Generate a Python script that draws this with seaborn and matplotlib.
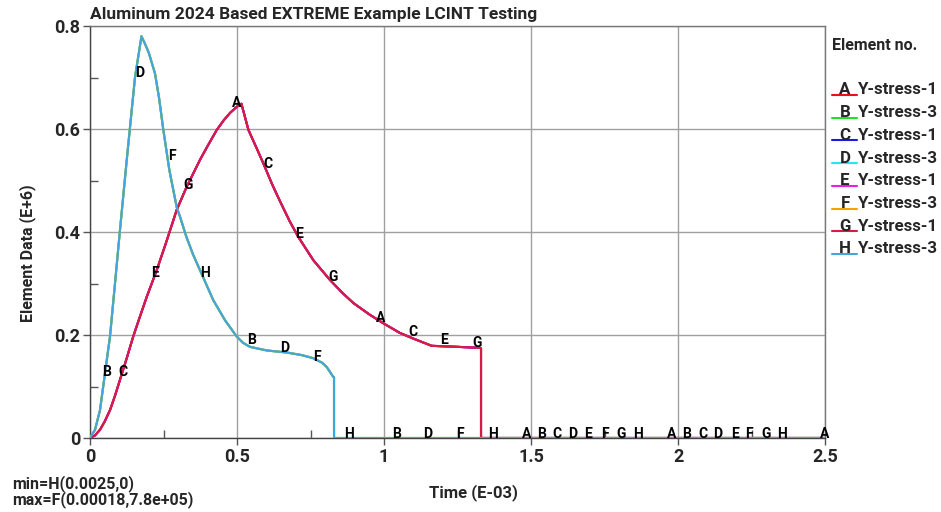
import numpy as np
import pandas as pd
import matplotlib
matplotlib.use("Agg")
import matplotlib.pyplot as plt
from matplotlib.lines import Line2D
import seaborn as sns

# ---- data (time in E-03, stress in E+6) ----
t1 = [0, 0.017, 0.034, 0.05, 0.068, 0.085, 0.102, 0.125, 0.147, 0.17, 0.193,
      0.227, 0.258, 0.295, 0.329, 0.374, 0.40, 0.431, 0.455, 0.476, 0.499,
      0.515, 0.539, 0.565, 0.589, 0.62, 0.646, 0.68, 0.709, 0.76, 0.816,
      0.86, 0.896, 0.95, 0.997, 1.054, 1.10, 1.162, 1.25, 1.327, 1.33, 1.33,
      2.5]
s1 = [0, 0.005, 0.016, 0.032, 0.054, 0.082, 0.113, 0.155, 0.197, 0.236,
      0.274, 0.326, 0.378, 0.443, 0.488, 0.540, 0.567, 0.598, 0.617, 0.631,
      0.643, 0.649, 0.598, 0.565, 0.534, 0.492, 0.460, 0.420, 0.390, 0.345,
      0.307, 0.281, 0.262, 0.240, 0.223, 0.204, 0.193, 0.179, 0.177, 0.175,
      0.174, 0, 0]

t3 = [0, 0.017, 0.034, 0.051, 0.068, 0.085, 0.102, 0.125, 0.153, 0.175,
      0.185, 0.20, 0.221, 0.235, 0.249, 0.27, 0.295, 0.306, 0.327, 0.35,
      0.374, 0.419, 0.46, 0.499, 0.52, 0.544, 0.601, 0.669, 0.72, 0.759,
      0.79, 0.805, 0.827, 0.83, 0.83, 2.5]
s3 = [0, 0.016, 0.054, 0.126, 0.197, 0.30, 0.404, 0.54, 0.70, 0.780, 0.768,
      0.748, 0.708, 0.66, 0.60, 0.52, 0.448, 0.430, 0.392, 0.357, 0.326,
      0.268, 0.228, 0.197, 0.185, 0.177, 0.170, 0.166, 0.161, 0.155, 0.146,
      0.138, 0.119, 0.118, 0, 0]

letters = ["A", "B", "C", "D", "E", "F", "G", "H"]
names = ["Y-stress-1", "Y-stress-3"] * 4
colors = ["#e8101c", "#22e022", "#1a1ad8", "#22e8f0",
          "#e81ee0", "#f5a300", "#d81c40", "#42a6de"]

# label anchor positions along the curves (x, y)
lab_x = {
    "A": [0.50, 0.99, 1.485, 1.979, 2.50],
    "B": [0.058, 0.551, 1.043, 1.536, 2.03],
    "C": [0.112, 0.605, 1.099, 1.587, 2.084],
    "D": [0.17, 0.663, 1.15, 1.643, 2.136],
    "E": [0.221, 0.711, 1.204, 1.694, 2.194],
    "F": [0.279, 0.772, 1.259, 1.752, 2.241],
    "G": [0.333, 0.827, 1.316, 1.808, 2.299],
    "H": [0.391, 0.882, 1.371, 1.864, 2.353],
}
lab_y = {
    "A": [0.650, 0.233, 0.008, 0.008, 0.008],
    "B": [0.128, 0.190, 0.008, 0.008, 0.008],
    "C": [0.128, 0.532, 0.206, 0.008, 0.008],
    "D": [0.709, 0.175, 0.008, 0.008, 0.008],
    "E": [0.320, 0.396, 0.190, 0.008, 0.008],
    "F": [0.548, 0.157, 0.008, 0.008, 0.008],
    "G": [0.491, 0.313, 0.184, 0.008, 0.008],
    "H": [0.320, 0.008, 0.008, 0.008, 0.008],
}

x_ticks = [0, 0.5, 1, 1.5, 2, 2.5]
x_ticklabels = ["0", "0.5", "1", "1.5", "2", "2.5"]
y_ticks = [0, 0.2, 0.4, 0.6, 0.8]
y_ticklabels = ["0", "0.2", "0.4", "0.6", "0.8"]

title = "Aluminum 2024 Based EXTREME Example LCINT Testing"
xlabel = "Time (E-03)"
ylabel = "Element Data (E+6)"
legend_title = "Element no."
min_text = "min=H(0.0025,0)"
max_text = "max=F(0.00018,7.8e+05)"

# ---- plotting ----
sns.set_theme(style="white")
plt.rcParams["font.family"] = ["Roboto", "DejaVu Sans"]

fig = plt.figure(figsize=(9.41, 5.12), dpi=100)
ax = fig.add_axes([90 / 941, 1 - 438 / 512, 735 / 941, 412 / 512])

for i, (L, c) in enumerate(zip(letters, colors)):
    if i % 2 == 0:
        df = pd.DataFrame({"t": t1, "v": s1})
    else:
        df = pd.DataFrame({"t": t3, "v": s3})
    sns.lineplot(data=df, x="t", y="v", color=c, lw=1.5, ax=ax,
                 estimator=None, sort=False, zorder=3 + i * 0.1)

for L in letters:
    for xx, yy in zip(lab_x[L], lab_y[L]):
        ax.text(xx, yy, L, ha="center", va="center", fontsize=10,
                fontweight="bold", color="black", zorder=10)

ax.set_xlim(0, 2.5)
ax.set_ylim(0, 0.8)
ax.set_xticks(x_ticks)
ax.set_xticklabels(x_ticklabels)
ax.set_yticks(y_ticks)
ax.set_yticklabels(y_ticklabels)
ax.set_xticks([0.25, 0.75, 1.25, 1.75, 2.25], minor=True)
ax.set_yticks([0.1, 0.3, 0.5, 0.7], minor=True)
ax.tick_params(axis="both", which="major", direction="out", length=5,
               width=1, color="#555555", labelsize=13, pad=2)
ax.tick_params(axis="both", which="minor", direction="in", length=6,
               width=1, color="#555555")
ax.tick_params(axis="x", which="both", bottom=True)
ax.tick_params(axis="y", which="both", left=True)
for lab in ax.get_xticklabels() + ax.get_yticklabels():
    lab.set_fontweight("bold")
ax.grid(True, which="major", color="#a0a0a0", lw=1)
for sp in ax.spines.values():
    sp.set_color("#777777")
    sp.set_linewidth(1)
ax.spines["left"].set_color("#444444")
ax.spines["bottom"].set_color("#444444")
ax.set_xlabel("")
ax.set_ylabel("")

fig.text(90 / 941, 1 - 15 / 512, title, ha="left", va="center",
         fontsize=12.5, fontweight="bold")
fig.text(473 / 941, 1 - 493 / 512, xlabel, ha="center", va="center",
         fontsize=12, fontweight="bold")
fig.text(28 / 941, 1 - 253 / 512, ylabel, ha="center", va="center",
         rotation=90, fontsize=11.5, fontweight="bold")
fig.text(12 / 941, 1 - 484 / 512, min_text, ha="left", va="center",
         fontsize=11.5, fontweight="bold")
fig.text(12 / 941, 1 - 500 / 512, max_text, ha="left", va="center",
         fontsize=11.5, fontweight="bold")

# legend
fig.text(832 / 941, 1 - 45 / 512, legend_title, ha="left", va="center",
         fontsize=11.5, fontweight="bold")
for i, (L, nm, c) in enumerate(zip(letters, names, colors)):
    yc = 90 + i * 22.7
    fig.text(845 / 941, 1 - yc / 512, L, ha="center", va="center",
             fontsize=12.2, fontweight="bold")
    fig.text(858 / 941, 1 - yc / 512, nm, ha="left", va="center",
             fontsize=12.2, fontweight="bold")
    fig.add_artist(Line2D([832 / 941, 857 / 941],
                          [1 - (yc + 5) / 512, 1 - (yc + 5) / 512],
                          color=c, lw=1.5, transform=fig.transFigure))

fig.savefig("out.png", dpi=100)
